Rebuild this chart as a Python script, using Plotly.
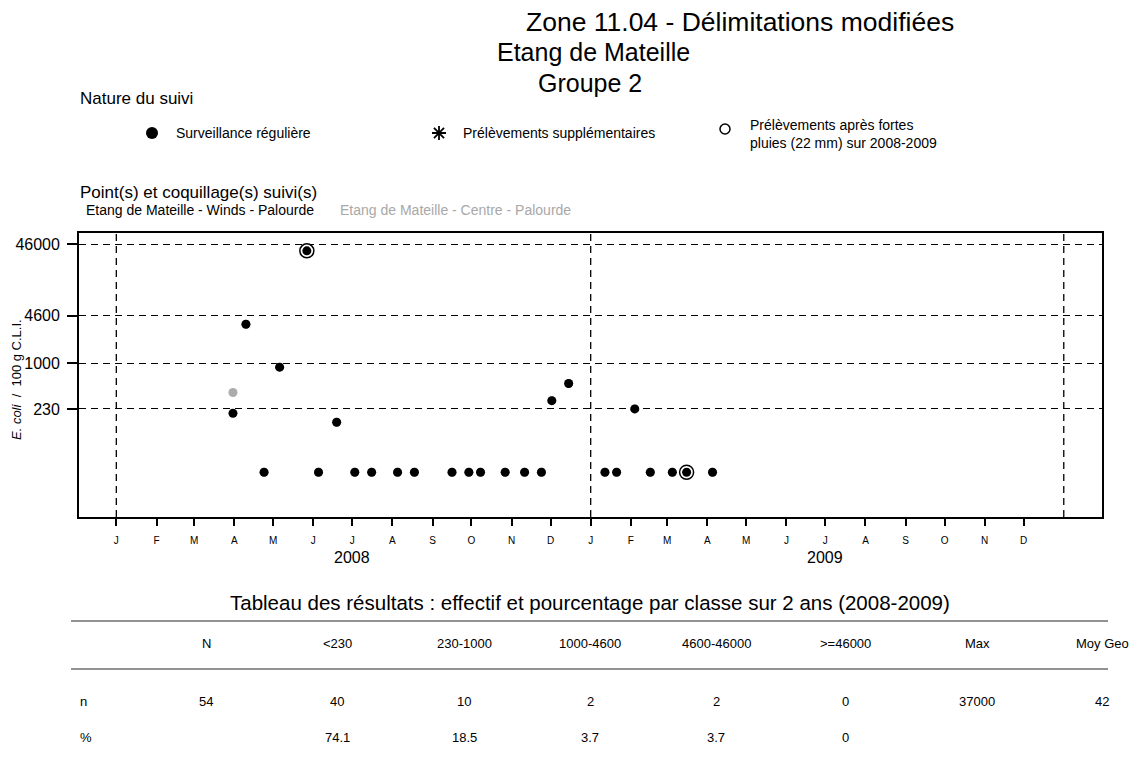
import pandas as pd
import plotly.graph_objects as go

# ---------------------------------------------------------------------------
# Data: E. coli / 100 g C.L.I. - Etang de Mateille, Groupe 2 (palourde)
# ---------------------------------------------------------------------------
dates_winds = [
    "2008-03-31", "2008-04-10", "2008-04-24", "2008-05-06", "2008-05-27",
    "2008-06-05", "2008-06-19", "2008-07-03", "2008-07-16", "2008-08-05",
    "2008-08-18", "2008-09-16", "2008-09-29", "2008-10-08", "2008-10-27",
    "2008-11-11", "2008-11-24", "2008-12-02", "2008-12-15", "2009-01-12",
    "2009-01-21", "2009-02-04", "2009-02-16", "2009-03-05", "2009-03-16",
    "2009-04-05",
]
ecoli_winds = [
    200, 3500, 30, 880, 37000,
    30, 150, 30, 30, 30,
    30, 30, 30, 30, 30,
    30, 30, 300, 520, 30,
    30, 230, 30, 30, 30,
    30,
]
# sampling done after heavy rain (22 mm)
rain_winds = [
    False, False, False, False, True,
    False, False, False, False, False,
    False, False, False, False, False,
    False, False, False, False, False,
    False, False, False, False, True,
    False,
]

dates_centre = list(dates_winds)
ecoli_centre = [
    390, 3500, 30, 880, 37000,
    30, 150, 30, 30, 30,
    30, 30, 30, 30, 30,
    30, 30, 300, 520, 30,
    30, 230, 30, 30, 30,
    30,
]

thresholds = [230, 1000, 4600, 46000]
month_letters = list("JFMAMJJASOND") * 2
years = ["2008", "2009"]
year_bounds = ["2008-01-01", "2009-01-01", "2010-01-01"]

table_cols = ["N", "<230", "230-1000", "1000-4600", "4600-46000", ">=46000", "Max", "Moy Geo"]
row_n = ["54", "40", "10", "2", "2", "0", "37000", "42"]
row_pct = ["", "74.1", "18.5", "3.7", "3.7", "0", "", ""]

# ---------------------------------------------------------------------------
# Layout geometry (pixels)
# ---------------------------------------------------------------------------
W, H = 1129, 764
L, R, T, B = 79, 1102, 233, 517
FONT = "Liberation Sans, Arial, Helvetica, sans-serif"
DASH = "7px,5px"


def px_x(x):
    return (x - L) / (R - L)


def px_y(y):
    return (B - y) / (B - T)


def label(text, x, y, size, color="black", xanchor="center", yanchor="middle", **kw):
    return dict(text=text, x=px_x(x), y=px_y(y), xref="paper", yref="paper",
                showarrow=False, font=dict(size=size, color=color, family=FONT),
                xanchor=xanchor, yanchor=yanchor, **kw)


def glyph(kind, x, y, r, width=1.5, fill="black"):
    base = dict(xref="paper", yref="paper", xsizemode="pixel", ysizemode="pixel",
                xanchor=px_x(x), yanchor=px_y(y))
    if kind == "path":
        d = r * 0.72
        base.update(type="path",
                    path=f"M{-r},0L{r},0M0,{-r}L0,{r}M{-d},{-d}L{d},{d}M{-d},{d}L{d},{-d}",
                    line=dict(color="black", width=width))
    else:
        base.update(type="circle", x0=-r, x1=r, y0=-r, y1=r, fillcolor=fill,
                    line=dict(color="black", width=width))
    return base


month_starts = pd.date_range("2008-01-01", periods=24, freq="MS").strftime("%Y-%m-%d").tolist()

fig = go.Figure()

# Centre - Palourde (grey), drawn first
fig.add_trace(go.Scatter(
    x=dates_centre, y=ecoli_centre, mode="markers",
    marker=dict(symbol="circle", size=9, color="#ababab"),
    showlegend=False, hoverinfo="x+y",
))

# rain-sampling rings
rain_x = [d for d, r in zip(dates_winds, rain_winds) if r]
rain_y = [v for v, r in zip(ecoli_winds, rain_winds) if r]
fig.add_trace(go.Scatter(
    x=rain_x, y=rain_y, mode="markers",
    marker=dict(symbol="circle", size=14, color="white",
                line=dict(color="black", width=1.5)),
    showlegend=False, hoverinfo="skip",
))

# Winds - Palourde (black)
fig.add_trace(go.Scatter(
    x=dates_winds, y=ecoli_winds, mode="markers",
    marker=dict(symbol="circle", size=9, color="black"),
    showlegend=False, hoverinfo="x+y",
))

# yearly dashed separators
shapes = []
for d in year_bounds:
    shapes.append(dict(type="line", xref="x", yref="paper", x0=d, x1=d, y0=0, y1=1,
                       line=dict(color="black", width=1.3, dash=DASH), layer="below"))

# table rules
for yy in (621, 669):
    shapes.append(dict(type="line", xref="paper", yref="paper",
                       x0=px_x(71), x1=px_x(1108), y0=px_y(yy), y1=px_y(yy),
                       line=dict(color="#6e6e6e", width=1.5)))

# "Nature du suivi" key symbols
shapes.append(glyph("circle", 152, 133, 6, width=0))
shapes.append(glyph("path", 439, 133, 7, width=1.8))
shapes.append(glyph("circle", 725, 129, 5, width=1.5, fill="white"))

annotations = [
    label("Zone 11.04 - Délimitations modifiées", 740, 22, 26.5),
    label("Etang de Mateille", 593, 52, 25),
    label("Groupe 2", 590, 83, 25),
    label("Nature du suivi", 78, 98, 17, xanchor="left"),
    label("Surveillance régulière", 174, 133, 14, xanchor="left"),
    label("Prélèvements supplémentaires", 461, 133, 14, xanchor="left"),
    label("Prélèvements après fortes<br>pluies (22 mm) sur 2008-2009", 748, 134, 14,
          xanchor="left", align="left"),
    label("Point(s) et coquillage(s) suivi(s)", 78, 192, 17, xanchor="left"),
    label("Etang de Mateille - Winds - Palourde", 84, 210, 14, xanchor="left"),
    label("Etang de Mateille - Centre - Palourde", 338, 210, 14, color="#a8a8a8", xanchor="left"),
    label("<i>E. coli</i>\u00a0\u00a0/\u00a0\u00a0100 g C.L.I.", 16, 380, 13, textangle=-90),
    label("Tableau des résultats : effectif et pourcentage par classe sur 2 ans (2008-2009)",
          590, 602, 20.5),
]

# year labels under the month letters
for yr in years:
    annotations.append(dict(text=yr, x=f"{yr}-07-01", xref="x", y=px_y(557), yref="paper",
                            showarrow=False, font=dict(size=16, family=FONT, color="black"),
                            xanchor="center", yanchor="middle"))

# results table
col_x = [206, 337, 464, 590, 716, 845, 977, 1102]
for cx, head, vn, vp in zip(col_x, table_cols, row_n, row_pct):
    annotations.append(label(head, cx, 643, 13))
    annotations.append(label(vn, cx, 701, 13))
    if vp:
        annotations.append(label(vp, cx, 737, 13))
annotations.append(label("n", 78, 701, 13, xanchor="left"))
annotations.append(label("%", 78, 737, 13, xanchor="left"))

fig.update_layout(
    width=W, height=H,
    margin=dict(l=L, r=W - R, t=T, b=H - B, autoexpand=False),
    paper_bgcolor="white", plot_bgcolor="white",
    font=dict(family=FONT, color="black"),
    showlegend=False,
    xaxis=dict(
        type="date", range=["2007-12-03 05:00", "2010-01-30 12:00"],
        tickmode="array", tickvals=month_starts, ticktext=month_letters,
        ticks="outside", ticklen=7, tickwidth=1.5, tickcolor="black",
        tickfont=dict(size=10, color="black"), ticklabelstandoff=6,
        showgrid=False, zeroline=False,
        showline=True, mirror=True, linecolor="black", linewidth=1.8,
    ),
    yaxis=dict(
        type="log", range=[0.853, 4.817],
        tickmode="array", tickvals=thresholds, ticktext=[str(t) for t in thresholds],
        ticks="outside", ticklen=10, tickwidth=1.5, tickcolor="black",
        tickfont=dict(size=16, color="black"), ticklabelstandoff=4,
        showgrid=True, gridcolor="black", gridwidth=1.3, griddash=DASH,
        zeroline=False,
        showline=True, mirror=True, linecolor="black", linewidth=1.8,
    ),
    shapes=shapes,
    annotations=annotations,
)

fig.write_html("out.html")
